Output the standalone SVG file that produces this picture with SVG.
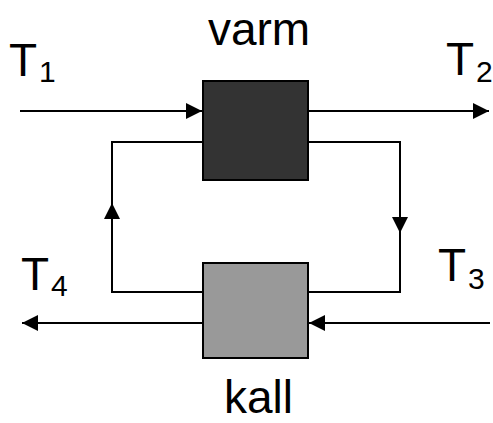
<svg xmlns="http://www.w3.org/2000/svg" width="493" height="423" viewBox="0 0 493 423">
<style>
.ln{fill:none;stroke:#000;stroke-width:2}
.t{font-family:"Liberation Sans",Arial,sans-serif;fill:#000}
.big{font-size:46px}
.sub{font-size:30px}
.box{stroke:#000;stroke-width:2}
</style>
<defs>
<marker id="ah" markerUnits="userSpaceOnUse" markerWidth="16" markerHeight="16" refX="16" refY="8" orient="auto" viewBox="0 0 16 16">
<path d="M0,0 L16,8 L0,16 z" fill="#000"/>
</marker>
</defs>
<g id="connectors">
<line class="ln" x1="20" y1="111" x2="202" y2="111" marker-end="url(#ah)"/>
<line class="ln" x1="308" y1="111" x2="489" y2="111" marker-end="url(#ah)"/>
<line class="ln" x1="490" y1="323" x2="309" y2="323" marker-end="url(#ah)"/>
<line class="ln" x1="203" y1="323" x2="22" y2="323" marker-end="url(#ah)"/>
<polyline class="ln" points="203,292 112,292 112,203" marker-end="url(#ah)"/>
<polyline class="ln" points="112,204 112,142 203,142"/>
<polyline class="ln" points="308,142 400,142 400,233" marker-end="url(#ah)"/>
<polyline class="ln" points="400,232 400,292 308,292"/>
</g>
<g id="varm">
<rect class="box" x="203" y="81" width="105" height="99" fill="#333333"/>
<text class="t big" x="259" y="45" text-anchor="middle">varm</text>
</g>
<g id="kall">
<rect class="box" x="203" y="263" width="105" height="95" fill="#999999"/>
<text class="t big" x="258.5" y="413" text-anchor="middle">kall</text>
</g>
<g id="T1"><text class="t big" x="9" y="76">T</text><text class="t sub" x="39" y="82">1</text></g>
<g id="T2"><text class="t big" x="446" y="75">T</text><text class="t sub" x="476" y="82">2</text></g>
<g id="T3"><text class="t big" x="438" y="281">T</text><text class="t sub" x="468" y="289">3</text></g>
<g id="T4"><text class="t big" x="21" y="290">T</text><text class="t sub" x="51" y="296">4</text></g>
</svg>
